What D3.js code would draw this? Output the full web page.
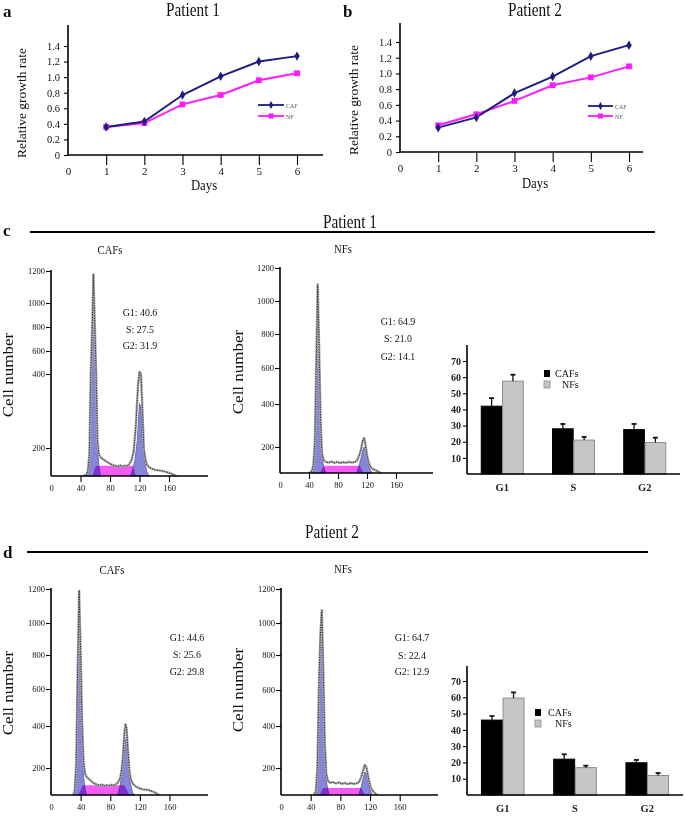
<!DOCTYPE html>
<html><head><meta charset="utf-8">
<script src="https://cdn.jsdelivr.net/npm/d3@7/dist/d3.min.js"></script>
<style>
body{margin:0;background:#fff}
svg{display:block}
text{font-family:"Liberation Serif","Times New Roman",serif}
</style></head><body>
<svg id="fig" width="685" height="816"></svg>
<script>
// ---------------- data ----------------
const days = [1,2,3,4,5,6];
const dayTicks = [0,1,2,3,4,5,6];
const growthTicks = [0,0.2,0.4,0.6,0.8,1.0,1.2,1.4];
const p1GrowthCAF = [0.36,0.43,0.77,1.01,1.20,1.27];
const p1GrowthNF  = [0.36,0.41,0.65,0.77,0.96,1.05];
const p2GrowthCAF = [0.31,0.44,0.75,0.96,1.22,1.36];
const p2GrowthNF  = [0.34,0.48,0.65,0.85,0.95,1.09];

const cellLevels = [0,200,400,600,800,1000,1200];
const cellTicks = [200,400,600,800,1000,1200];
const channelTicks = [0,40,80,120,160];

// histograms: [channel, cell number]
const p1CafTrace = [[44,0],[48,10],[50,40],[52,150],[54,420],[56,820],[57.5,1180],[59,900],[61,460],[63,220],[65,150],[68,130],[72,115],[76,100],[80,88],[84,78],[88,72],[91,66],[94,76],[97,66],[100,74],[103,70],[106,84],[109,110],[112,170],[115,260],[118,370],[120,420],[122,400],[124,300],[126,190],[128,120],[130,82],[133,62],[137,52],[141,44],[146,40],[151,36],[156,30],[161,20],[166,10],[170,0]];
const p1CafG1 = [[49,0],[52,130],[54,400],[56,790],[57.5,1150],[59,870],[61,430],[63,190],[65,70],[67,0]];
const p1CafG2 = [[108,0],[111,50],[114,120],[117,220],[120,320],[122,310],[124,220],[127,100],[130,30],[133,0]];
const p1CafS  = [[56,0],[61,74],[111,74],[115,0]];
const p1CafStats = ["G1: 40.6","S: 27.5","G2: 31.9"];

const p1NfTrace = [[40,0],[44,15],[46,60],[48,220],[50,620],[52,1100],[54,720],[56,320],[58,150],[60,100],[63,85],[67,80],[71,88],[75,78],[79,86],[83,76],[87,84],[91,78],[95,86],[99,80],[103,84],[106,95],[109,130],[112,185],[114,230],[116,242],[118,210],[120,140],[122,85],[125,45],[128,30],[132,20],[136,10],[139,0]];
const p1NfG1 = [[45,0],[48,200],[50,600],[52,1080],[54,700],[56,300],[58,130],[60,50],[63,0]];
const p1NfG2 = [[106,0],[109,50],[112,120],[114,170],[116,200],[118,170],[120,110],[123,40],[127,0]];
const p1NfS  = [[55,0],[60,55],[110,55],[115,0]];
const p1NfStats = ["G1: 64.9","S: 21.0","G2: 14.1"];

const p2CafTrace = [[30,0],[32,30],[34,220],[36,720],[38,1190],[40,820],[42,420],[44,230],[46,160],[48,135],[51,120],[54,105],[57,90],[60,82],[63,75],[66,70],[69,78],[72,66],[75,74],[78,68],[81,76],[84,70],[87,78],[90,90],[93,120],[95,170],[97,250],[99,360],[100.5,410],[102,390],[104,280],[106,170],[108,110],[111,80],[115,62],[119,50],[124,42],[129,40],[134,33],[139,22],[143,10],[146,0]];
const p2CafG1 = [[32,0],[34,180],[36,640],[38,1000],[40,720],[42,340],[44,130],[46,40],[48,0]];
const p2CafG2 = [[90,0],[93,60],[96,170],[98,270],[100,340],[102,320],[104,220],[107,90],[110,20],[113,0]];
const p2CafS  = [[37,0],[43,72],[99,72],[106,0]];
const p2CafStats = ["G1: 44.6","S: 25.6","G2: 29.8"];

const p2NfTrace = [[44,0],[47,30],[49,200],[51,600],[53,920],[55,1076],[57,720],[59,320],[61,160],[63,110],[66,90],[70,95],[74,85],[78,93],[82,82],[86,90],[90,80],[94,88],[98,82],[102,86],[105,95],[108,130],[111,185],[113,215],[115,205],[117,150],[119,95],[121,55],[124,28],[127,12],[130,0]];
const p2NfG1 = [[47,0],[49,180],[51,580],[53,880],[55,1050],[57,680],[59,280],[61,110],[63,40],[65,0]];
const p2NfG2 = [[105,0],[108,60],[111,130],[113,170],[115,160],[117,110],[120,40],[123,0]];
const p2NfS  = [[52,0],[57,52],[108,52],[113,0]];
const p2NfStats = ["G1: 64.7","S: 22.4","G2: 12.9"];

const phases = ["G1","S","G2"];
const groups = ["CAFs","NFs"];
const pctTicks = [10,20,30,40,50,60,70];
const p1BarCAF = [42,28,27.5];
const p1BarCAFErr = [5,3,3.5];
const p1BarNF = [57.5,21,19.5];
const p1BarNFErr = [4,2,3];
const p2BarCAF = [46,22,19.8];
const p2BarCAFErr = [2.5,3,1.7];
const p2BarNF = [59.5,16.8,12];
const p2BarNFErr = [3.5,1.2,1.5];

// ---------------- drawing ----------------
const svg = d3.select("#fig");
const SX = 0.85;
function txt(g, x, y, s, o = {}) {
  return g.append("text")
    .attr("transform", `translate(${x},${y}) scale(${o.sx ?? SX},1)` + (o.rot ? ` rotate(${o.rot})` : ""))
    .attr("font-size", o.size || 10)
    .attr("text-anchor", o.anchor || "middle")
    .attr("font-weight", o.weight || "normal")
    .attr("fill", o.fill || "#111")
    .text(s);
}
function vline(g, x, y1, y2, w = 1.4) {
  g.append("line").attr("x1", x).attr("x2", x).attr("y1", y1).attr("y2", y2)
    .attr("stroke", "#000").attr("stroke-width", w);
}
function hline(g, x1, x2, y, w = 1.4) {
  g.append("line").attr("x1", x1).attr("x2", x2).attr("y1", y).attr("y2", y)
    .attr("stroke", "#000").attr("stroke-width", w);
}
function styleAxis(a, size) {
  a.select(".domain").remove();
  a.attr("font-size", size);
  a.selectAll("text").attr("fill", "#111");
  a.selectAll(".tick line").attr("stroke", "#000").attr("stroke-width", 1.1);
}

function growthPanel(c) {
  const g = svg.append("g");
  const x = d3.scaleLinear().domain([0, 6]).range([c.x0, c.x6]);
  const y = d3.scaleLinear().domain([0, 1.4]).range([c.y0, c.y14]);
  vline(g, x(0), c.yTop, y(0), 1.6);
  hline(g, x(0), c.xEnd, y(0), 1.6);
  const ya = g.append("g").attr("transform", `translate(${x(0)},0)`)
    .call(d3.axisLeft(y).tickValues(growthTicks).tickSize(4).tickPadding(4)
      .tickFormat(d => d === 0 ? "0" : d.toFixed(1)));
  styleAxis(ya, 10.5);
  const xa = g.append("g").attr("transform", `translate(0,${y(0)})`)
    .call(d3.axisBottom(x).tickValues(dayTicks).tickSize(10).tickPadding(2).tickFormat(d3.format("d")));
  styleAxis(xa, 11);
  xa.selectAll(".tick").filter(d => d === 0).select("line").remove();

  const line = d3.line().x((d, i) => x(days[i])).y(d => y(d));
  g.append("path").datum(c.nf).attr("d", line).attr("fill", "none")
    .attr("stroke", "#ff1aff").attr("stroke-width", 2);
  g.append("path").datum(c.caf).attr("d", line).attr("fill", "none")
    .attr("stroke", "#1e1e80").attr("stroke-width", 2);
  g.selectAll(".nfm").data(c.nf).join("path")
    .attr("transform", (d, i) => `translate(${x(days[i])},${y(d)})`)
    .attr("d", d3.symbol(d3.symbolSquare, 34)()).attr("fill", "#ff1aff");
  g.selectAll(".cafm").data(c.caf).join("path")
    .attr("transform", (d, i) => `translate(${x(days[i])},${y(d)})`)
    .attr("d", d3.symbol(d3.symbolDiamond, 26)()).attr("fill", "#1e1e80");

  // legend
  const L = c.leg;
  g.append("line").attr("x1", L.x).attr("x2", L.x + L.w).attr("y1", L.y1).attr("y2", L.y1)
    .attr("stroke", "#1e1e80").attr("stroke-width", 1.8);
  g.append("path").attr("transform", `translate(${L.x + L.w / 2},${L.y1})`)
    .attr("d", d3.symbol(d3.symbolDiamond, 18)()).attr("fill", "#1e1e80");
  g.append("line").attr("x1", L.x).attr("x2", L.x + L.w).attr("y1", L.y2).attr("y2", L.y2)
    .attr("stroke", "#ff1aff").attr("stroke-width", 1.8);
  g.append("path").attr("transform", `translate(${L.x + L.w / 2},${L.y2})`)
    .attr("d", d3.symbol(d3.symbolSquare, 26)()).attr("fill", "#ff1aff");
  txt(g, L.x + L.w + 2, L.y1 + 2.5, "CAF", {size: 7, anchor: "start", fill: "#555"});
  txt(g, L.x + L.w + 2, L.y2 + 2.5, "NF", {size: 7, anchor: "start", fill: "#555"});

  txt(g, c.letter[0], c.letter[1], c.letterText, {size: 17, weight: "bold", anchor: "start", sx: 1});
  txt(g, c.title[0], c.title[1], c.titleText, {size: 18});
  txt(g, c.days[0], c.days[1], "Days", {size: 15});
  txt(g, c.ylab[0], c.ylab[1], "Relative growth rate", {size: 13.5, rot: -90});
}

function histPanel(c) {
  const g = svg.append("g");
  const x = d3.scaleLinear().domain([0, 160]).range([c.x0, c.x160]);
  const y = d3.scaleLinear().domain(cellLevels).range(c.yR);
  const area = d3.area().x(d => x(d[0])).y0(y(0)).y1(d => y(d[1]));
  g.append("path").datum(c.s).attr("d", area).attr("fill", "#f25cf2");
  [c.g1, c.g2].forEach(a => g.append("path").datum(a).attr("d", area)
    .attr("fill", "#8686d8").attr("stroke", "#5656b6").attr("stroke-width", 0.8)
    .style("mix-blend-mode", "multiply"));
  const line = d3.line().x(d => x(d[0])).y(d => y(d[1]));
  g.append("path").datum(c.trace).attr("d", line).attr("fill", "none")
    .attr("stroke", "#aaa").attr("stroke-width", 2.4).attr("stroke-linejoin", "round");
  g.append("path").datum(c.trace).attr("d", line).attr("fill", "none")
    .attr("stroke", "#111").attr("stroke-width", 0.9).attr("stroke-dasharray", "1.2,1.3");

  vline(g, x(0), y(1200) - 1, y(0), 1.6);
  hline(g, x(0), c.xEnd, y(0), 1.6);
  const ya = g.append("g").attr("transform", `translate(${x(0)},0)`)
    .call(d3.axisLeft(y).tickValues(cellTicks).tickSize(5).tickPadding(1).tickFormat(d3.format("d")));
  styleAxis(ya, 8.5);
  const xa = g.append("g").attr("transform", `translate(0,${y(0)})`)
    .call(d3.axisBottom(x).tickValues(channelTicks).tickSize(6).tickPadding(3).tickFormat(d3.format("d")));
  styleAxis(xa, 8.5);
  xa.selectAll(".tick").filter(d => d === 0).select("line").remove();

  txt(g, c.title[0], c.title[1], c.titleText, {size: 13, sx: 0.82});
  txt(g, c.ylab[0], c.ylab[1], "Cell number", {size: 17, rot: -90, sx: 0.8});
  c.stats.forEach((s, i) => txt(g, c.statX, c.statY[i], s, {size: 11, sx: 0.9}));
}

function barPanel(c) {
  const g = svg.append("g");
  const x = d3.scaleBand().domain(phases).range([c.x0, c.xEnd]).paddingInner(0.41).paddingOuter(0.2);
  const xs = d3.scaleBand().domain(groups).range([0, x.bandwidth()]).paddingInner(0.03);
  const y = d3.scaleLinear().domain([0, 70]).range([c.y0, c.y70]);
  const series = [
    {key: "CAFs", vals: c.caf, err: c.cafErr, fill: "#000", stroke: "#000"},
    {key: "NFs", vals: c.nf, err: c.nfErr, fill: "#c6c6c6", stroke: "#8c8c8c"}
  ];
  series.forEach(s => {
    const rows = phases.map((p, i) => ({p, v: s.vals[i], e: s.err[i]}));
    g.selectAll(null).data(rows).join("rect")
      .attr("x", d => x(d.p) + xs(s.key)).attr("width", xs.bandwidth())
      .attr("y", d => y(d.v)).attr("height", d => y(0) - y(d.v))
      .attr("fill", s.fill).attr("stroke", s.stroke).attr("stroke-width", 1);
    g.selectAll(null).data(rows).join("line")
      .attr("x1", d => x(d.p) + xs(s.key) + xs.bandwidth() / 2)
      .attr("x2", d => x(d.p) + xs(s.key) + xs.bandwidth() / 2)
      .attr("y1", d => y(d.v)).attr("y2", d => y(d.v + d.e))
      .attr("stroke", "#111").attr("stroke-width", 1.3);
    g.selectAll(null).data(rows).join("line")
      .attr("x1", d => x(d.p) + xs(s.key) + xs.bandwidth() / 2 - 2.5)
      .attr("x2", d => x(d.p) + xs(s.key) + xs.bandwidth() / 2 + 2.5)
      .attr("y1", d => y(d.v + d.e)).attr("y2", d => y(d.v + d.e))
      .attr("stroke", "#111").attr("stroke-width", 1.8);
  });
  vline(g, c.x0, c.top, y(0), 1.6);
  hline(g, c.x0, c.xEnd, y(0), 1.6);
  const ya = g.append("g").attr("transform", `translate(${c.x0},0)`)
    .call(d3.axisLeft(y).tickValues(pctTicks).tickSize(4).tickPadding(2));
  styleAxis(ya, 10);
  ya.selectAll("text").attr("font-weight", "bold").attr("fill", "#222");
  const xa = g.append("g").attr("transform", `translate(0,${y(0)})`)
    .call(d3.axisBottom(x).tickSize(0).tickPadding(10));
  styleAxis(xa, 10.5);
  xa.selectAll("text").attr("font-weight", "bold").attr("fill", "#222");

  const L = c.leg;
  g.append("rect").attr("x", L.x - 3).attr("y", L.y1 - 3).attr("width", 6).attr("height", 7).attr("fill", "#000");
  g.append("rect").attr("x", L.x - 3).attr("y", L.y2 - 3).attr("width", 6).attr("height", 7)
    .attr("fill", "#c6c6c6").attr("stroke", "#8c8c8c").attr("stroke-width", 0.8);
  txt(g, L.tx1, L.y1 + 3.5, groups[0], {size: 10, anchor: "start", sx: 1});
  txt(g, L.tx2, L.y2 + 3.5, groups[1], {size: 10, anchor: "start", sx: 1});
}

// panels a, b
growthPanel({x0: 68, x6: 297, y0: 155, y14: 46, yTop: 25, xEnd: 323,
  caf: p1GrowthCAF, nf: p1GrowthNF,
  leg: {x: 258, w: 26, y1: 105, y2: 116},
  letter: [3, 17], letterText: "a", title: [193, 16], titleText: "Patient 1",
  days: [204, 190], ylab: [26, 103]});
growthPanel({x0: 400, x6: 629, y0: 152, y14: 42, yTop: 23, xEnd: 643,
  caf: p2GrowthCAF, nf: p2GrowthNF,
  leg: {x: 588, w: 25, y1: 106, y2: 116},
  letter: [343, 17], letterText: "b", title: [535, 16], titleText: "Patient 2",
  days: [535, 188], ylab: [358, 100]});

// section headers
const hdr = svg.append("g");
txt(hdr, 3, 236, "c", {size: 17, weight: "bold", anchor: "start", sx: 1});
hline(hdr, 30, 655, 232, 1.8);
txt(hdr, 350, 228, "Patient 1", {size: 18});
txt(hdr, 3, 558, "d", {size: 17, weight: "bold", anchor: "start", sx: 1});
hline(hdr, 27, 648, 552, 1.8);
txt(hdr, 332, 538, "Patient 2", {size: 18});

// panel c
histPanel({x0: 51, x160: 169, yR: [476,448,374,351,327,303,271], xEnd: 208,
  trace: p1CafTrace, g1: p1CafG1, g2: p1CafG2, s: p1CafS, stats: p1CafStats,
  title: [110, 254], titleText: "CAFs", ylab: [13, 375], statX: 140, statY: [316, 333, 349]});
histPanel({x0: 280, x160: 396, yR: [473,447,404,368,334,301,268], xEnd: 433,
  trace: p1NfTrace, g1: p1NfG1, g2: p1NfG2, s: p1NfS, stats: p1NfStats,
  title: [343, 253], titleText: "NFs", ylab: [243, 372], statX: 398, statY: [325, 342, 360]});
barPanel({x0: 467, xEnd: 680, y0: 474, y70: 361, top: 345,
  caf: p1BarCAF, cafErr: p1BarCAFErr, nf: p1BarNF, nfErr: p1BarNFErr,
  leg: {x: 547, y1: 373, y2: 384, tx1: 555, tx2: 562}});

// panel d
histPanel({x0: 51, x160: 169.5, yR: [795,768,726,689,655,623,589], xEnd: 208,
  trace: p2CafTrace, g1: p2CafG1, g2: p2CafG2, s: p2CafS, stats: p2CafStats,
  title: [112, 574], titleText: "CAFs", ylab: [13, 693], statX: 187, statY: [641, 658, 675]});
histPanel({x0: 281, x160: 399.7, yR: [795,768,726,690,655,623,589], xEnd: 438,
  trace: p2NfTrace, g1: p2NfG1, g2: p2NfG2, s: p2NfS, stats: p2NfStats,
  title: [343, 573], titleText: "NFs", ylab: [243, 690], statX: 412, statY: [641, 659, 675]});
barPanel({x0: 467, xEnd: 683, y0: 795, y70: 681, top: 666,
  caf: p2BarCAF, cafErr: p2BarCAFErr, nf: p2BarNF, nfErr: p2BarNFErr,
  leg: {x: 538, y1: 712, y2: 723, tx1: 548, tx2: 555}});
</script>
</body></html>
